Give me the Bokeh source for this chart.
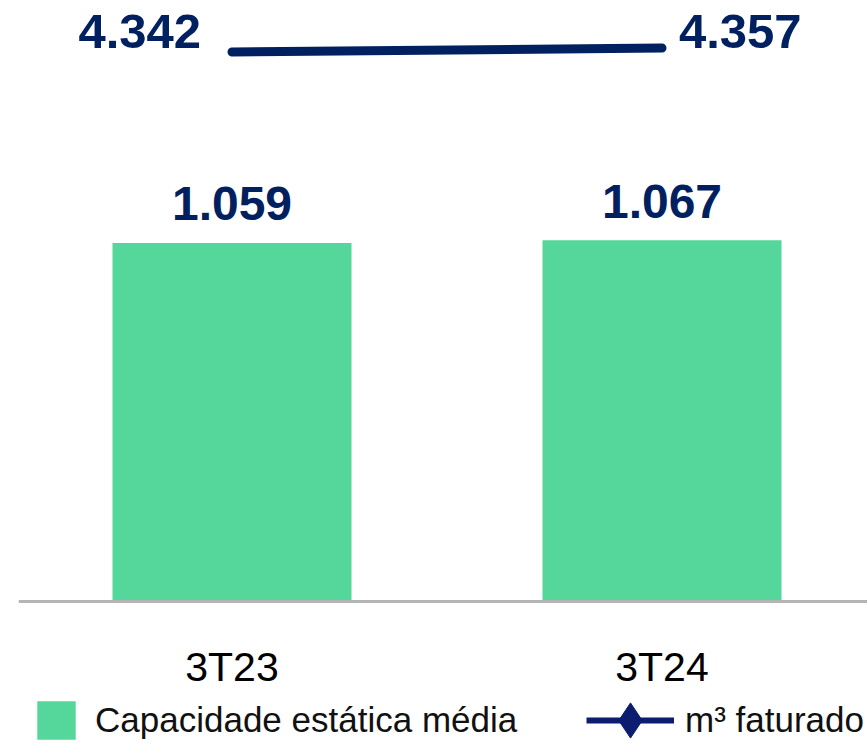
from bokeh.plotting import figure
from bokeh.models import ColumnDataSource, Range1d, FixedTicker, Legend, LegendItem
from bokeh.core.properties import value
from bokeh.embed import file_html
from bokeh.resources import INLINE

# ---- data ----
periods = ["3T23", "3T24"]
capacidade = [1059, 1067]
m3_faturado = [4342, 4357]
series_names = ["Capacidade estática média", "m³ faturado"]


def fmt(v):
    return f"{v:,}".replace(",", ".")


xs = list(range(len(periods)))
src = ColumnDataSource(dict(
    x=xs,
    cap=capacidade,
    m3=m3_faturado,
    cap_lbl=[fmt(v) for v in capacidade],
))

FONT_NAME = "Liberation Sans"
FONT = value(FONT_NAME)
NAVY = "#002060"
GREEN = "#55D69A"
LEG_NAVY = "#0C1C6E"

p = figure(width=867, height=747, output_backend="svg", toolbar_location=None,
           x_range=Range1d(-0.4965, 1.4779), y_range=Range1d(-431.1, 1774.8),
           y_axis_location=None,
           min_border_left=18, min_border_right=0, min_border_top=0, min_border_bottom=0)
p.extra_y_ranges = {"m3": Range1d(1733.9, 4535.1)}
p.outline_line_color = None
p.grid.visible = False

bars = p.vbar(x="x", top="cap", width=0.5558, source=src,
              fill_color=GREEN, line_color=None)

# thinner copy of the line, hidden beneath the main line, used for the legend glyph
leg_line = p.line(x="x", y="m3", source=src, y_range_name="m3",
                  line_width=6, line_color=LEG_NAVY)
p.line(x="x", y="m3", source=src, y_range_name="m3",
       line_width=9, line_color=NAVY, line_cap="round")
leg_dia = p.scatter(x="x", y="m3", source=src, y_range_name="m3", size=0,
                    marker="diamond", fill_color=LEG_NAVY, line_color=LEG_NAVY)

p.text(x="x", y="cap", text="cap_lbl", source=src,
       text_align="center", text_baseline="alphabetic", y_offset=-39,
       text_font=FONT, text_font_style="bold", text_font_size="48px",
       text_color=NAVY)

first = ColumnDataSource(dict(x=[xs[0]], y=[m3_faturado[0]], t=[fmt(m3_faturado[0])]))
last = ColumnDataSource(dict(x=[xs[-1]], y=[m3_faturado[-1]], t=[fmt(m3_faturado[-1])]))
p.text(x="x", y="y", text="t", source=first, y_range_name="m3",
       text_align="right", text_baseline="alphabetic", x_offset=-31, y_offset=-20.5,
       text_font=FONT, text_font_style="bold", text_font_size="49px", text_color=NAVY)
p.text(x="x", y="y", text="t", source=last, y_range_name="m3",
       text_align="left", text_baseline="alphabetic", x_offset=17, y_offset=-16.5,
       text_font=FONT, text_font_style="bold", text_font_size="49px", text_color=NAVY)

ax = p.xaxis[0]
ax.ticker = FixedTicker(ticks=xs)
ax.major_label_overrides = {i: lab for i, lab in zip(xs, periods)}
ax.fixed_location = 0
ax.axis_line_color = "#B5B5B5"
ax.axis_line_width = 3
ax.major_tick_line_color = None
ax.minor_tick_line_color = None
ax.major_label_text_font = FONT_NAME
ax.major_label_text_font_size = "41px"
ax.major_label_text_color = "#000000"
ax.major_label_standoff = 36

common = dict(padding=0, margin=0, border_line_color=None, background_fill_alpha=0,
              label_text_font=FONT_NAME, label_text_font_size="35px", label_text_color="#111111",
              spacing=0)
legend1 = Legend(items=[LegendItem(label=series_names[0], renderers=[bars])],
                 location=(14, 3), glyph_width=48, glyph_height=48, label_standoff=15, **common)
legend2 = Legend(items=[LegendItem(label=series_names[1], renderers=[leg_line, leg_dia])],
                 location=(568, -23), glyph_width=88, glyph_height=100, label_standoff=11, **common)
p.add_layout(legend1, "center")
p.add_layout(legend2, "center")

open("out.html", "w").write(file_html(p, INLINE))
